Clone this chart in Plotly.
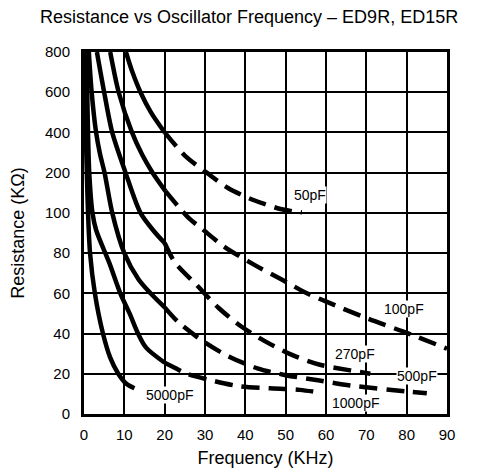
import plotly.graph_objects as go

# Resistance (KOhm) vs frequency (KHz) for each timing capacitor
caps = ["50pF", "100pF", "270pF", "500pF", "1000pF", "5000pF"]

# solid part of each curve
solid_f = {
    "50pF": [10.4, 12, 14, 16.6, 20],
    "100pF": [6.5, 8.6, 11.9, 14.4, 17, 20.2],
    "270pF": [3.2, 5.0, 7.0, 10.3, 14.0, 17.3, 20],
    "500pF": [1.2, 1.9, 3.0, 4.0, 5.1, 7.0, 10.0, 13.5, 16.5, 20],
    "1000pF": [0.6, 0.8, 1.0, 1.3, 2.1, 3.0, 6.3, 9.0, 11.3, 13.4, 15.4, 20],
    "5000pF": [0.2, 0.3, 0.45, 0.7, 1.0, 1.5, 2.7, 4.7, 6.5, 8.5, 10.5, 12.5],
}
solid_r = {
    "50pF": [800, 700, 600, 500, 400],
    "100pF": [800, 600, 400, 290, 200, 154],
    "270pF": [800, 600, 400, 200, 100, 91, 85],
    "500pF": [800, 600, 400, 290, 200, 100, 80, 67, 60, 53],
    "1000pF": [800, 600, 400, 200, 100, 91.5, 75, 60, 50, 40, 33, 25.5],
    "5000pF": [800, 600, 400, 200, 100, 80, 60, 40, 28, 20, 15, 12.8],
}

# dashed (extrapolated) part of each curve
dash_f = {
    "50pF": [20, 25, 30.4, 35.7, 42, 49, 54],
    "100pF": [20.2, 23.2, 26.2, 29.3, 34.7, 41.9, 48.9, 55, 60.4, 70.5, 80.5, 90],
    "270pF": [20, 22.5, 28, 33.4, 39, 45.5, 52, 58.5, 66, 71],
    "500pF": [20, 23.3, 30, 36, 43, 50, 58, 66, 80, 85],
    "1000pF": [20, 22, 25.5, 31, 38.5, 46, 53.5, 59],
}
dash_r = {
    "50pF": [400, 285, 200, 162, 132, 109, 101],
    "100pF": [154, 118, 97, 92, 83.3, 74.5, 67, 60.3, 55.6, 47.3, 40, 32.5],
    "270pF": [85, 75.5, 64, 52.7, 43.5, 35.5, 29, 24.5, 21.7, 20],
    "500pF": [53, 45.8, 35.5, 28.5, 22.7, 19.3, 16.8, 14.2, 11.2, 10.3],
    "1000pF": [25.5, 23.5, 20, 17, 13.8, 12.8, 12, 10.5],
}

y_tick_values = [0, 20, 40, 60, 80, 100, 200, 400, 600, 800]
x_tick_values = [0, 10, 20, 30, 40, 50, 60, 70, 80, 90]

label_f = {"50pF": 56, "100pF": 79.4, "270pF": 67.2, "500pF": 82.5, "1000pF": 67.2, "5000pF": 21.3}
label_r = {"50pF": 145, "100pF": 52, "270pF": 30, "500pF": 19, "1000pF": 5.5, "5000pF": 9.5}

FONT = "Liberation Sans, Arial, Helvetica, sans-serif"


def to_axis(r):
    """The chart's y grid is evenly spaced but the values are not: map KOhm to grid units."""
    if r <= 100:
        return r / 20
    if r <= 200:
        return 5 + (r - 100) / 100
    return 6 + (r - 200) / 200


fig = go.Figure()
line_style = dict(color="black", width=4.5, shape="spline", smoothing=0.8)

for c in caps:
    fig.add_trace(go.Scatter(
        x=solid_f[c], y=[to_axis(v) for v in solid_r[c]],
        mode="lines", line=line_style, name=c, showlegend=False,
    ))
    if c in dash_f:
        fig.add_trace(go.Scatter(
            x=dash_f[c], y=[to_axis(v) for v in dash_r[c]],
            mode="lines", line=dict(line_style, dash="18px,9px"),
            name=c, showlegend=False,
        ))

for c in caps:
    fig.add_annotation(
        x=label_f[c], y=to_axis(label_r[c]), text=c, showarrow=False,
        bgcolor="white", borderpad=0,
        font=dict(family=FONT, size=14, color="black"),
    )

axis_font = dict(family=FONT, size=15, color="black")
title_font = dict(family=FONT, size=18, color="black")

# chart title as a paper annotation so it sits where the original has it
fig.add_annotation(
    text="Resistance vs Oscillator Frequency – ED9R, ED15R",
    xref="paper", yref="paper", x=0.4545, y=1.0967,
    xanchor="center", yanchor="middle", showarrow=False, font=title_font,
)

fig.update_xaxes(
    range=[0, 90], tickvals=x_tick_values, ticks="", tickfont=axis_font,
    ticklabelstandoff=5, automargin=False,
    showgrid=True, gridcolor="black", gridwidth=1.6, zeroline=False,
    showline=True, linecolor="black", linewidth=3, mirror=True,
    title=dict(text="Frequency (KHz)", font=title_font, standoff=10),
)
fig.update_yaxes(
    range=[0, 9], tickvals=[to_axis(v) for v in y_tick_values],
    ticktext=[str(v) for v in y_tick_values], ticks="", tickfont=axis_font,
    ticklabelstandoff=8, automargin=False,
    showgrid=True, gridcolor="black", gridwidth=1.6, zeroline=False,
    showline=True, linecolor="black", linewidth=3, mirror=True,
    title=dict(text="Resistance (KΩ)", font=title_font, standoff=17),
)

# page has an 8px body margin, so the figure is drawn 8px smaller
fig.update_layout(
    width=476, height=464,
    margin=dict(l=76, r=37, t=44, b=58),
    plot_bgcolor="white", paper_bgcolor="white",
)

fig.write_html("out.html")
